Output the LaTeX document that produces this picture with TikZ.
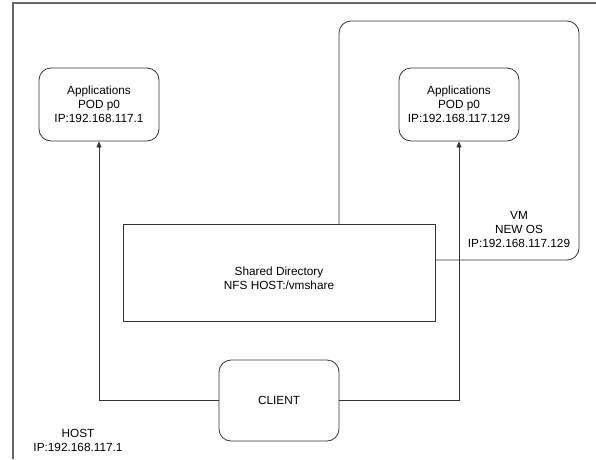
\documentclass[tikz,border=0pt]{standalone}
\usepackage{fontspec}
\setmainfont{Liberation Sans}
\usetikzlibrary{arrows.meta,positioning}

\tikzset{
  podbox/.style={draw=black!80, line width=0.8pt, rounded corners=12pt, fill=white,
    minimum width=120pt, minimum height=73pt, align=center, inner sep=0pt},
  sharebox/.style={draw=black!80, line width=0.8pt, fill=white,
    minimum width=312pt, minimum height=97pt, inner sep=0pt},
  plain/.style={align=center, inner sep=0pt},
  link/.style={draw=black!80, line width=0.8pt, -{Triangle[width=5pt,length=6pt]}},
}

\begin{document}
\begin{tikzpicture}[x=1pt,y=-1pt,font=\fontsize{11.8}{14}\selectfont]
  \useasboundingbox (0,0) rectangle (596,459);

  % Host frame
  \coordinate (hostcorner) at (13,3);
  \draw[black!60, line width=1.3pt] (13,459) -- (hostcorner) -- (596,3);
  \node[plain] (hostlbl) at (78,440) {HOST\\IP:192.168.117.1};

  % VM
  \node[draw=black!80, line width=0.8pt, rounded corners=12pt,
        minimum width=240pt, minimum height=239pt] (vm) at (459,140.5) {};
  \node[plain] (vmlbl) at (519,229) {VM\\NEW OS\\IP:192.168.117.129};

  % Pods
  \node[podbox] (podhost) at (99,104.5) {Applications\\POD p0\\IP:192.168.117.1};
  \node[podbox] (podvm) at (459,104.5) {Applications\\POD p0\\IP:192.168.117.129};

  % Shared directory
  \node[sharebox] (shared) at (279,272.5) {};
  \node[plain] (sharedlbl) at ([yshift=-6pt]shared.center) {Shared Directory\\NFS HOST:/vmshare};

  % Client
  \node[podbox, minimum height=81pt] (client) at (279,400.5) {CLIENT};

  % Links
  \draw[link] (client.west) -| (podhost.south);
  \draw[link] (client.east) -| (podvm.south);
\end{tikzpicture}
\end{document}
